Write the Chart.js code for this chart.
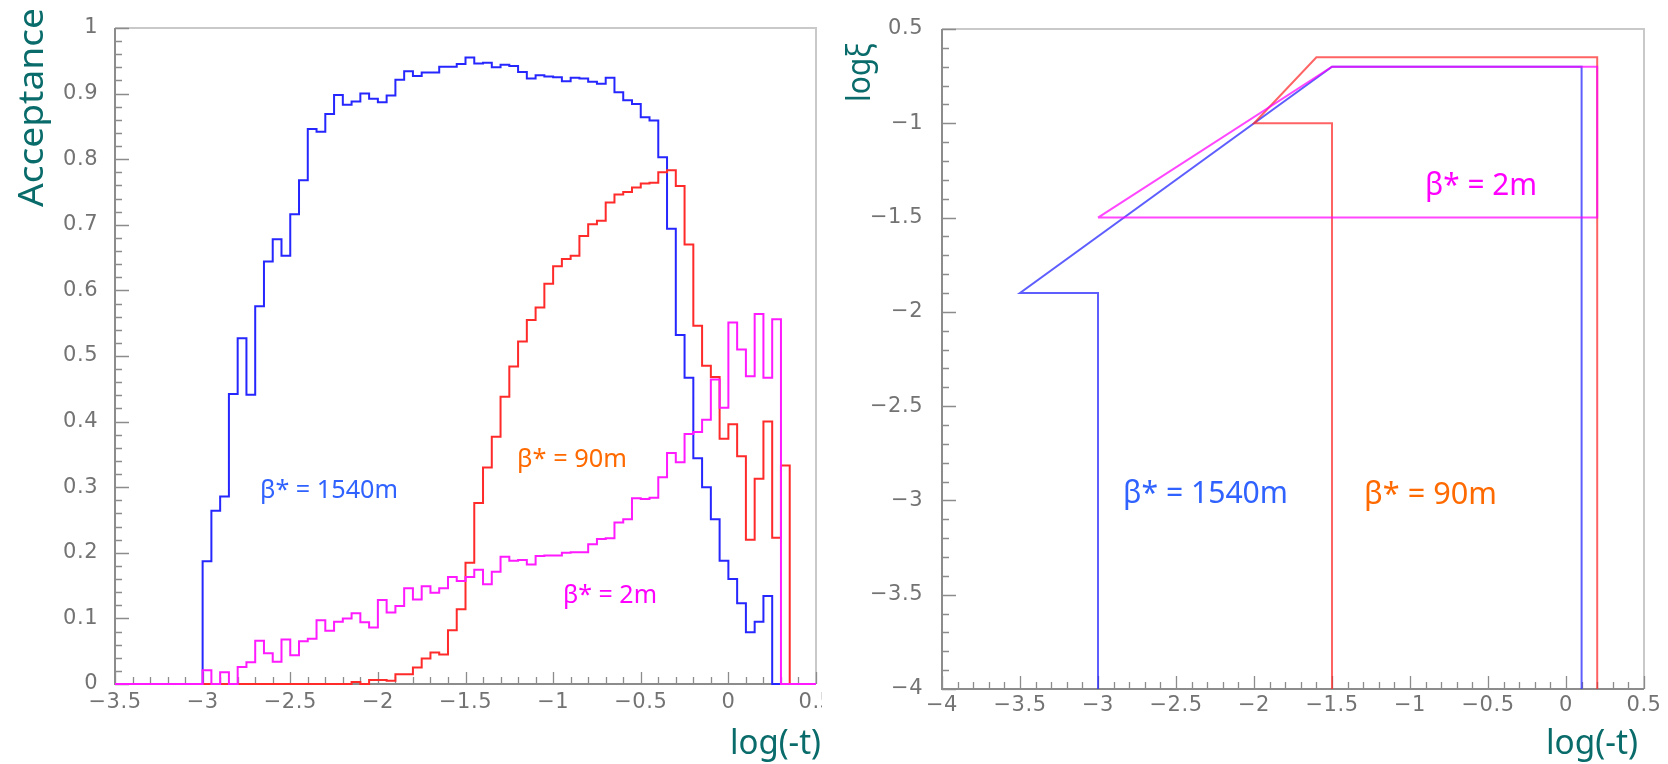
<!DOCTYPE html>
<html><head><meta charset="utf-8">
<script src="https://cdn.jsdelivr.net/npm/chart.js@4.4.1/dist/chart.umd.min.js"></script>
<style>
html,body{margin:0;padding:0;background:#fff;width:1668px;height:764px;overflow:hidden;}
#left{position:absolute;left:0;top:0;}
#right{position:absolute;left:830px;top:0;}
</style></head><body>
<canvas id="left" width="822" height="764"></canvas>
<canvas id="right" width="838" height="764"></canvas>
<script>
// ---------- data: left panel (acceptance histograms, bins of 0.05 in log(-t)) ----------
const binEdges = [-3.5,-3.45,-3.4,-3.35,-3.3,-3.25,-3.2,-3.15,-3.1,-3.05,
  -3,-2.95,-2.9,-2.85,-2.8,-2.75,-2.7,-2.65,-2.6,-2.55,
  -2.5,-2.45,-2.4,-2.35,-2.3,-2.25,-2.2,-2.15,-2.1,-2.05,
  -2,-1.95,-1.9,-1.85,-1.8,-1.75,-1.7,-1.65,-1.6,-1.55,
  -1.5,-1.45,-1.4,-1.35,-1.3,-1.25,-1.2,-1.15,-1.1,-1.05,
  -1,-0.95,-0.9,-0.85,-0.8,-0.75,-0.7,-0.65,-0.6,-0.55,
  -0.5,-0.45,-0.4,-0.35,-0.3,-0.25,-0.2,-0.15,-0.1,-0.05,
  0,0.05,0.1,0.15,0.2,0.25,0.3,0.35,0.4,0.45,0.5];

const acc1540 = [0,0,0,0,0,0,0,0,0,0,
  0.187,0.264,0.286,0.442,0.527,0.441,0.576,0.644,0.678,0.653,
  0.716,0.768,0.846,0.842,0.869,0.898,0.883,0.888,0.900,0.892,
  0.887,0.897,0.921,0.934,0.927,0.932,0.932,0.941,0.941,0.945,
  0.955,0.946,0.947,0.940,0.944,0.942,0.933,0.923,0.928,0.926,
  0.925,0.919,0.924,0.923,0.918,0.915,0.924,0.902,0.890,0.884,
  0.864,0.859,0.803,0.694,0.532,0.467,0.344,0.300,0.251,0.188,
  0.160,0.123,0.079,0.095,0.134,0,0,0,0,0];

const acc90 = [0,0,0,0,0,0,0,0,0,0,
  0,0,0,0,0,0,0,0,0,0,
  0,0,0,0,0,0,0,0.003,0,0.006,
  0.006,0.005,0.015,0.015,0.025,0.039,0.048,0.045,0.082,0.114,
  0.185,0.276,0.330,0.377,0.438,0.484,0.522,0.555,0.574,0.610,
  0.637,0.648,0.653,0.683,0.701,0.706,0.734,0.746,0.750,0.757,
  0.763,0.764,0.780,0.783,0.759,0.670,0.546,0.485,0.468,0.374,
  0.396,0.347,0.220,0.313,0.400,0.223,0.333,0,0,0];

const acc2 = [0,0,0,0,0,0,0,0,0,0,
  0.021,0,0.018,0,0.026,0.033,0.066,0.047,0.034,0.068,
  0.044,0.065,0.069,0.097,0.081,0.095,0.100,0.108,0.094,0.086,
  0.128,0.109,0.119,0.146,0.129,0.149,0.139,0.146,0.163,0.157,
  0.163,0.174,0.152,0.171,0.194,0.188,0.189,0.182,0.195,0.196,
  0.196,0.200,0.201,0.201,0.213,0.221,0.222,0.246,0.251,0.283,
  0.282,0.284,0.315,0.352,0.338,0.381,0.384,0.403,0.464,0.421,
  0.551,0.510,0.469,0.564,0.467,0.556,0,0,0,0];

const accXTicks = [-3.5,-3,-2.5,-2,-1.5,-1,-0.5,0,0.5];
const accXLabels = ['\u22123.5','\u22123','\u22122.5','\u22122','\u22121.5','\u22121','\u22120.5','0','0.5'];
const accYTicks = [0,0.1,0.2,0.3,0.4,0.5,0.6,0.7,0.8,0.9,1];
const accYLabels = ['0','0.1','0.2','0.3','0.4','0.5','0.6','0.7','0.8','0.9','1'];

// ---------- data: right panel (log xi vs log(-t) acceptance regions) ----------
const region1540X = [-3,-3,-3.5,-1.5,0.1,0.1];
const region1540Y = [-4,-1.9,-1.9,-0.7,-0.7,-4];
const region90X = [-1.5,-1.5,-2,-1.6,0.2,0.2];
const region90Y = [-4,-1,-1,-0.65,-0.65,-4];
const region2X = [-3,0.2,0.2,-1.5,-3];
const region2Y = [-1.5,-1.5,-0.7,-0.7,-1.5];

const xiXTicks = [-4,-3.5,-3,-2.5,-2,-1.5,-1,-0.5,0,0.5];
const xiXLabels = ['\u22124','\u22123.5','\u22123','\u22122.5','\u22122','\u22121.5','\u22121','\u22120.5','0','0.5'];
const xiYTicks = [-4,-3.5,-3,-2.5,-2,-1.5,-1,-0.5];
const xiYLabels = ['\u22124','\u22123.5','\u22123','\u22122.5','\u22122','\u22121.5','\u22121','0.5'];

// ---------- helpers ----------
const histPoints = vals => binEdges.map((x, i) => ({x, y: vals[Math.min(i, vals.length - 1)]}));
const polyPoints = (xs, ys) => xs.map((x, i) => ({x, y: ys[i]}));

const TICK_FONT = {family: '"DejaVu Sans", "Liberation Sans", sans-serif', size: 21};
const TICK_COLOR = '#737373';

function frameTicksPlugin(cfg) {
  return {
    id: 'frameTicks',
    beforeDraw(chart) { try { chart.ctx.letterSpacing = '0.5px'; } catch (e) {} },
    beforeDatasetsDraw(chart) {
      const {ctx, chartArea: a, scales: {x, y}} = chart;
      ctx.save();
      try { ctx.letterSpacing = '0px'; } catch (e) {}
      // top / right frame
      ctx.strokeStyle = '#c9c9c9'; ctx.lineWidth = 2;
      ctx.beginPath();
      ctx.moveTo(a.left, a.top); ctx.lineTo(a.right, a.top); ctx.lineTo(a.right, a.bottom);
      ctx.stroke();
      // inner tick marks
      ctx.strokeStyle = '#8c8c8c'; ctx.lineWidth = 1.3;
      ctx.beginPath();
      for (let k = 0; k <= cfg.yN; k++) {
        const v = cfg.yMin + k * cfg.yStep;
        const py = Math.round(y.getPixelForValue(v)) + 0.5;
        const len = (k % cfg.yEvery === 0) ? cfg.yMajLen : cfg.yMinLen;
        ctx.moveTo(a.left, py); ctx.lineTo(a.left + len, py);
      }
      for (let k = 0; k <= cfg.xN; k++) {
        const v = cfg.xMin + k * cfg.xStep;
        const px = Math.round(x.getPixelForValue(v)) + 0.5;
        const len = (k % cfg.xEvery === 0) ? cfg.xMajLen : cfg.xMinLen;
        ctx.moveTo(px, a.bottom); ctx.lineTo(px, a.bottom - len);
      }
      ctx.stroke();
      // left / bottom axis lines
      ctx.strokeStyle = '#8c8c8c'; ctx.lineWidth = 2;
      ctx.beginPath();
      ctx.moveTo(a.left, a.top); ctx.lineTo(a.left, a.bottom); ctx.lineTo(a.right, a.bottom);
      ctx.stroke();
      ctx.restore();
    }
  };
}

function textPlugin(items) {
  return {
    id: 'texts',
    afterDatasetsDraw(chart) {
      const ctx = chart.ctx;
      for (const t of items) {
        ctx.save();
        try { ctx.letterSpacing = '0px'; } catch (e) {}
        ctx.font = t.font;
        ctx.textAlign = 'left';
        ctx.textBaseline = 'alphabetic';
        const w = ctx.measureText(t.text).width;
        const sx = t.width / w;
        ctx.translate(t.x, t.y);
        if (t.rot) ctx.rotate(t.rot);
        if (t.box) {
          ctx.fillStyle = '#ffffff';
          ctx.fillRect(-5, -t.box[0], t.width + 10, t.box[0] + t.box[1]);
        }
        ctx.scale(sx, 1);
        ctx.fillStyle = t.color;
        ctx.fillText(t.text, 0, 0);
        ctx.restore();
      }
    }
  };
}

function axisCfg(opts) {
  return {
    type: 'linear', min: opts.min, max: opts.max,
    grid: {display: false, drawTicks: false},
    border: {display: false},
    afterBuildTicks: s => { s.ticks = opts.ticks.map(v => ({value: v})); },
    ticks: {
      font: TICK_FONT, color: TICK_COLOR, padding: opts.pad,
      autoSkip: false, maxRotation: 0, minRotation: 0,
      callback: v => opts.labels[opts.ticks.indexOf(v)]
    },
    afterFit: s => {
      if (opts.horizontal) { s.height = opts.size; s.paddingLeft = 0; s.paddingRight = 0; }
      else { s.width = opts.size; s.paddingTop = 0; s.paddingBottom = 0; }
    }
  };
}

const TEAL = '#0a6b6b';
const LABEL_FONT = '"Noto Sans", sans-serif';

// ---------- left chart ----------
new Chart(document.getElementById('left'), {
  type: 'line',
  data: {
    datasets: [
      {label: 'β* = 2m', data: histPoints(acc2), borderColor: '#ff1aff'},
      {label: 'β* = 90m', data: histPoints(acc90), borderColor: '#ff2a2a'},
      {label: 'β* = 1540m', data: histPoints(acc1540), borderColor: '#2626ff'}
    ].map(d => Object.assign(d, {stepped: true, pointRadius: 0, borderWidth: 2, fill: false, clip: false, tension: 0}))
  },
  options: {
    responsive: false, animation: false, devicePixelRatio: 1,
    layout: {padding: {left: 0, top: 28, right: 6, bottom: 0}},
    plugins: {legend: {display: false}, tooltip: {enabled: false}},
    scales: {
      x: axisCfg({min: -3.5, max: 0.5, ticks: accXTicks, labels: accXLabels, pad: 6, horizontal: true, size: 80}),
      y: axisCfg({min: 0, max: 1, ticks: accYTicks, labels: accYLabels, pad: 17, horizontal: false, size: 115})
    }
  },
  plugins: [
    frameTicksPlugin({yMin: 0, yStep: 0.02, yN: 50, yEvery: 5, yMajLen: 14, yMinLen: 7,
                      xMin: -3.5, xStep: 0.1, xN: 40, xEvery: 5, xMajLen: 12, xMinLen: 7}),
    textPlugin([
      {text: 'Acceptance', font: '35px ' + LABEL_FONT, color: TEAL, x: 43, y: 207, width: 199, rot: -Math.PI / 2},
      {text: 'log(-t)', font: '34px ' + LABEL_FONT, color: TEAL, x: 730, y: 754, width: 91},
      {text: 'β* = 1540m', font: '26px ' + LABEL_FONT, color: '#2f62ff', x: 260, y: 498, width: 138, box: [26, 10]},
      {text: 'β* = 90m', font: '26px ' + LABEL_FONT, color: '#ff6a00', x: 517, y: 467, width: 110, box: [30, 10]},
      {text: 'β* = 2m', font: '26px ' + LABEL_FONT, color: '#ff00ff', x: 563, y: 603, width: 94, box: [26, 10]}
    ])
  ]
});

// ---------- right chart ----------
new Chart(document.getElementById('right'), {
  type: 'scatter',
  data: {
    datasets: [
      {label: 'β* = 2m', data: polyPoints(region2X, region2Y), borderColor: 'rgba(255,0,255,0.72)'},
      {label: 'β* = 90m', data: polyPoints(region90X, region90Y), borderColor: 'rgba(255,40,40,0.72)'},
      {label: 'β* = 1540m', data: polyPoints(region1540X, region1540Y), borderColor: 'rgba(40,40,255,0.75)'}
    ].map(d => Object.assign(d, {showLine: true, pointRadius: 0, borderWidth: 2, fill: false, clip: false, tension: 0}))
  },
  options: {
    responsive: false, animation: false, devicePixelRatio: 1,
    layout: {padding: {left: 0, top: 29, right: 24, bottom: 0}},
    plugins: {legend: {display: false}, tooltip: {enabled: false}},
    scales: {
      x: axisCfg({min: -4, max: 0.5, ticks: xiXTicks, labels: xiXLabels, pad: 4, horizontal: true, size: 75}),
      y: axisCfg({min: -4, max: -0.5, ticks: xiYTicks, labels: xiYLabels, pad: 19, horizontal: false, size: 112})
    }
  },
  plugins: [
    frameTicksPlugin({yMin: -4, yStep: 0.1, yN: 35, yEvery: 5, yMajLen: 14, yMinLen: 7,
                      xMin: -4, xStep: 0.1, xN: 45, xEvery: 5, xMajLen: 13, xMinLen: 7}),
    textPlugin([
      {text: 'logξ', font: '32px ' + LABEL_FONT, color: TEAL, x: 40, y: 102, width: 59, rot: -Math.PI / 2},
      {text: 'log(-t)', font: '34px ' + LABEL_FONT, color: TEAL, x: 716, y: 754, width: 92},
      {text: 'β* = 1540m', font: '30px ' + LABEL_FONT, color: '#2f62ff', x: 293, y: 503, width: 165},
      {text: 'β* = 90m', font: '30px ' + LABEL_FONT, color: '#ff6a00', x: 534, y: 504, width: 133},
      {text: 'β* = 2m', font: '30px ' + LABEL_FONT, color: '#ff00ff', x: 595, y: 195, width: 112}
    ])
  ]
});
</script>
</body></html>
